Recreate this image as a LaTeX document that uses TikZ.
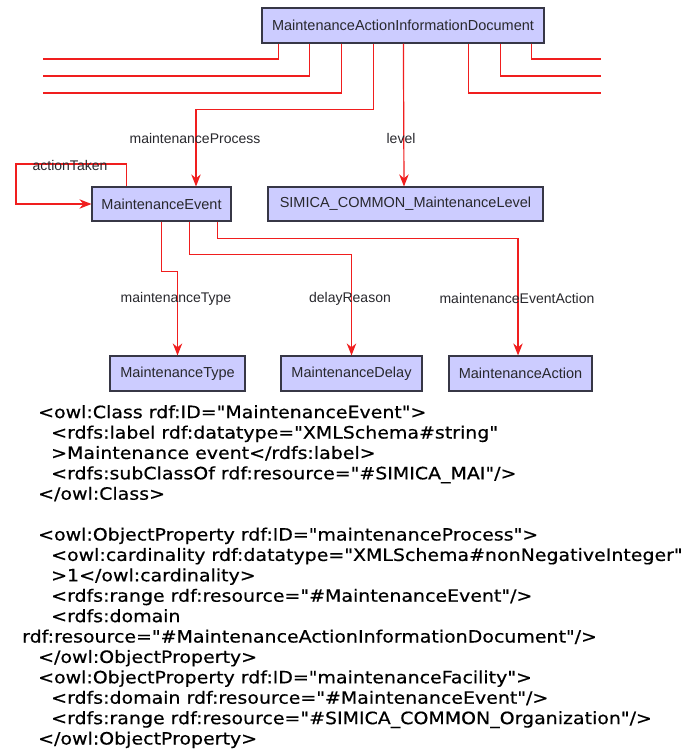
\documentclass[tikz,border=0pt]{standalone}
\usepackage{fontspec}
\setmainfont{Liberation Sans}
\newfontfamily\codefont[FakeStretch=1.115,FakeBold=0.5]{DejaVu Sans}
\usetikzlibrary{arrows.meta}

\definecolor{classfill}{RGB}{204,204,255}
\definecolor{classline}{RGB}{55,55,70}
\definecolor{relred}{RGB}{240,30,30}
\definecolor{labelgray}{RGB}{40,40,45}

\tikzset{
  owlclass/.style={draw=classline, fill=classfill, line width=1.2pt,
    minimum height=35, inner sep=0pt, text=labelgray,
    font=\fontsize{14.5}{16}\selectfont},
  rel/.style={draw=relred, line width=1.2pt},
  relarrow/.style={rel, -{Stealth[length=12pt,width=9.5pt]}},
  rellabel/.style={inner sep=0pt, text=labelgray,
    font=\fontsize{14}{16}\selectfont},
}

\begin{document}
\begin{tikzpicture}[x=1pt,y=-1pt]
\useasboundingbox[fill=white] (0,0) rectangle (690,749);

% classes
\node[owlclass, minimum width=282] (doc) at (403,25.5) {MaintenanceActionInformationDocument};
\node[owlclass, minimum width=139, minimum height=34] (event) at (161.5,204) {MaintenanceEvent};
\node[owlclass, minimum width=275, minimum height=34] (level) at (405.5,204) {SIMICA\_COMMON\_MaintenanceLevel};
\node[owlclass, minimum width=135] (mtype) at (177.5,373.5) {MaintenanceType};
\node[owlclass, minimum width=141] (mdelay) at (351.5,373.5) {MaintenanceDelay};
\node[owlclass, minimum width=143] (maction) at (520.5,373.5) {MaintenanceAction};

% cut-off properties of the document
\foreach \dx/\y in {17/59, 48/76, 80/93}
{
	\coordinate (left\dx) at (43,\y);
	\draw[rel] ([xshift=\dx]doc.south west) |- (left\dx);
}
\foreach \dx/\y in {207/93, 239/76, 270/59}
{
	\coordinate (right\dx) at (601,\y);
	\draw[rel] ([xshift=\dx]doc.south west) |- (right\dx);
}

% properties
\draw[relarrow] ([xshift=112]doc.south west) -- ++(0,66) -| ([xshift=34.5]event.north);
\node[rellabel] (procLabel) at (195,138) {maintenanceProcess};

\draw[relarrow] ([xshift=142]doc.south west) -- ([xshift=-1.5]level.north);
\node[rellabel] (levelLabel) at (401,138) {level};

\draw[relarrow] ([xshift=35]event.north west) |- (16,164) |- (event.west);
\node[rellabel] (actionLabel) at (70,165) {actionTaken};

\draw[relarrow] ([xshift=70]event.south west) -- ++(0,50) -| (mtype.north);
\node[rellabel] (typeLabel) at (176,299) {maintenanceType};

\draw[relarrow] ([xshift=98]event.south west) -- ++(0,33) -| (mdelay.north);
\node[rellabel] (delayLabel) at (350,299) {delayReason};

\draw[relarrow] ([xshift=126]event.south west) -- ++(0,17) -| ([xshift=-2.5]maction.north);
\node[rellabel] (eventActionLabel) at (517,298) {maintenanceEventAction};

% owl source
\node[anchor=north west, align=left, inner sep=0pt,
  font={\fontsize{17}{20.4}\selectfont\codefont}] (owlcode) at (22,405) {%
\hspace*{16pt}<owl:Class rdf:ID="MaintenanceEvent">\\
\hspace*{29pt}<rdfs:label rdf:datatype="XMLSchema\#string"\\
\hspace*{29pt}>Maintenance event</rdfs:label>\\
\hspace*{29pt}<rdfs:subClassOf rdf:resource="\#SIMICA\_MAI"/>\\
\hspace*{16pt}</owl:Class>\\[20.4pt]
\hspace*{16pt}<owl:ObjectProperty rdf:ID="maintenanceProcess">\\
\hspace*{29pt}<owl:cardinality rdf:datatype="XMLSchema\#nonNegativeInteger"\\
\hspace*{29pt}>1</owl:cardinality>\\
\hspace*{29pt}<rdfs:range rdf:resource="\#MaintenanceEvent"/>\\
\hspace*{29pt}<rdfs:domain\\
rdf:resource="\#MaintenanceActionInformationDocument"/>\\
\hspace*{16pt}</owl:ObjectProperty>\\
\hspace*{16pt}<owl:ObjectProperty rdf:ID="maintenanceFacility">\\
\hspace*{29pt}<rdfs:domain rdf:resource="\#MaintenanceEvent"/>\\
\hspace*{29pt}<rdfs:range rdf:resource="\#SIMICA\_COMMON\_Organization"/>\\
\hspace*{16pt}</owl:ObjectProperty>};
\end{tikzpicture}
\end{document}
